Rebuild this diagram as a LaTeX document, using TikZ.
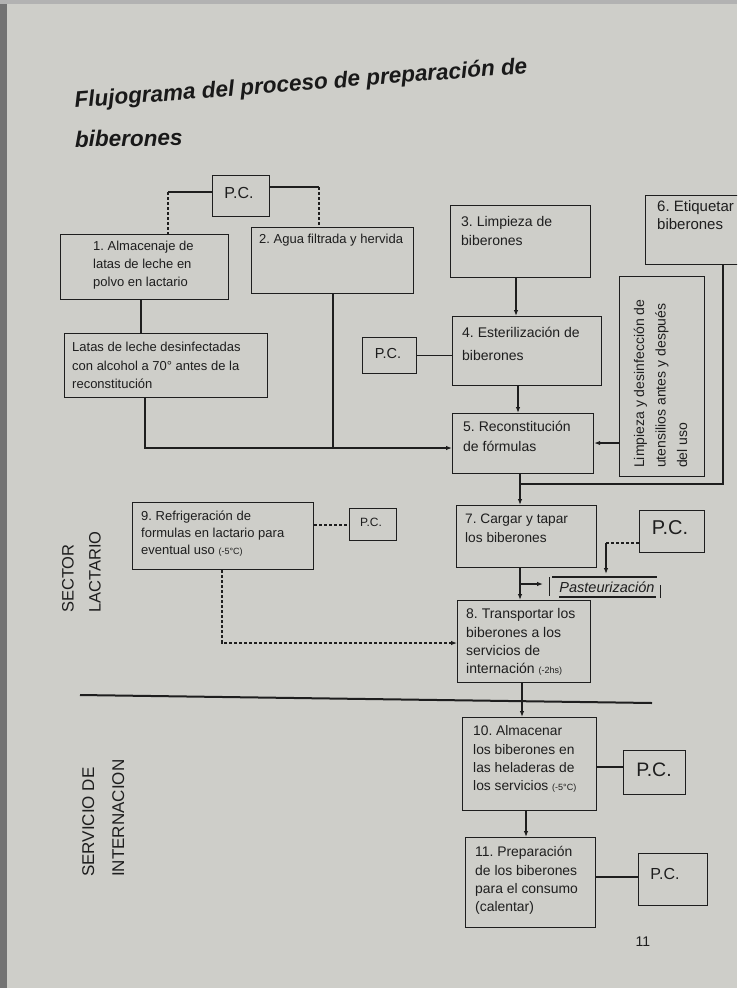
\documentclass[tikz,border=0pt]{standalone}
\usepackage{fontspec}
\setmainfont{Liberation Sans}
\usetikzlibrary{arrows.meta,calc}
\definecolor{inkc}{HTML}{1E1E1E}
\definecolor{paper}{HTML}{CECEC9}
\frenchspacing
\begin{document}
\begin{tikzpicture}[x=1pt,y=-1pt,
  box/.style={draw=inkc, line width=1.2pt, anchor=north west, inner sep=0pt},
  txt/.style={anchor=north west, inner sep=0pt, align=left, text=inkc},
  pctxt/.style={anchor=center, inner sep=0pt, text=inkc},
  conn/.style={draw=inkc, line width=1.1pt},
  arr/.style={conn, -{Latex[length=6pt,width=4.5pt]}},
  dsh/.style={conn, dash pattern=on 3pt off 2pt},
]
\useasboundingbox (0,0) rectangle (737,988);
\clip (0,0) rectangle (737,988);
\fill[paper] (0,0) rectangle (737,988);
\fill[black!55] (0,0) rectangle (7,988);
\fill[black!30] (0,0) rectangle (737,4);

% Title
\node[anchor=base west, inner sep=0pt, rotate=4.4, text=black!90,
  font=\fontsize{22.5}{26}\selectfont\bfseries\itshape] (title1) at (75,108)
  {Flujograma del proceso de preparación de};
\node[anchor=base west, inner sep=0pt, rotate=0.8, text=black!90,
  font=\fontsize{22.5}{26}\selectfont\bfseries\itshape] (title2) at (75,147)
  {biberones};

% Top P.C.
\node[box, minimum width=57pt, minimum height=41pt] (pc0) at (212,175) {};
\node[pctxt, font=\fontsize{16}{16}\selectfont] (pc0t) at (239,193) {P.C.};

% Box 1
\node[box, minimum width=168pt, minimum height=65pt] (b1) at (60,234) {};
\node[txt, font=\fontsize{13}{18}\selectfont] (t1) at (93,241)
  {1. Almacenaje de\\latas de leche en\\polvo en lactario};

% Box 2
\node[box, minimum width=162pt, minimum height=66pt] (b2) at (251,227) {};
\node[txt, font=\fontsize{13}{18}\selectfont] (t2) at (259,234)
  {2. Agua filtrada y hervida};

% Latas
\node[box, minimum width=203pt, minimum height=64pt] (latas) at (64,333) {};
\node[txt, font=\fontsize{13}{18.5}\selectfont] (tl) at (72,342)
  {Latas de leche desinfectadas\\con alcohol a 70° antes de la\\reconstitución};

% Box 3
\node[box, minimum width=140pt, minimum height=72pt] (b3) at (450,205) {};
\node[txt, font=\fontsize{14}{19}\selectfont] (t3) at (461,216.5)
  {3. Limpieza de\\biberones};

% P.C. 4
\node[box, minimum width=54pt, minimum height=36pt] (pc4) at (362,337) {};
\node[pctxt, font=\fontsize{14.5}{14.5}\selectfont] (pc4t) at (388,354) {P.C.};

% Box 4
\node[box, minimum width=149pt, minimum height=69pt] (b4) at (452,316) {};
\node[txt, font=\fontsize{14}{23}\selectfont] (t4) at (462,326.5)
  {4. Esterilización de\\biberones};

% Box 5
\node[box, minimum width=141pt, minimum height=60pt] (b5) at (452,413) {};
\node[txt, font=\fontsize{14}{20}\selectfont] (t5) at (463,420.5)
  {5. Reconstitución\\de fórmulas};

% Box 6
\node[box, minimum width=100pt, minimum height=69pt] (b6) at (645,195) {};
\node[txt, font=\fontsize{15}{18.5}\selectfont] (t6) at (657,200)
  {6. Etiquetar\\biberones};

% Limpieza box
\node[box, minimum width=85pt, minimum height=200pt] (limp) at (619,276) {};
\node[txt, rotate=90, font=\fontsize{14}{21.5}\selectfont] (tlimp) at (633.5,468)
  {Limpieza y desinfección de\\utensilios antes y después\\del uso};

% Box 9
\node[box, minimum width=181pt, minimum height=67pt] (b9) at (132,502) {};
\node[txt, font=\fontsize{13}{17}\selectfont] (t9) at (141,511)
  {9. Refrigeración de\\formulas en lactario para\\eventual uso {\fontsize{9}{9}\selectfont(-5°C)}};

% P.C. 9
\node[box, minimum width=47pt, minimum height=32pt] (pc9) at (349,508) {};
\node[pctxt, font=\fontsize{12}{12}\selectfont] (pc9t) at (371,522) {P.C.};

% Box 7
\node[box, minimum width=140pt, minimum height=62pt] (b7) at (456,505) {};
\node[txt, font=\fontsize{13.7}{19}\selectfont] (t7) at (465,513.5)
  {7. Cargar y tapar\\los biberones};

% P.C. 7
\node[box, minimum width=65pt, minimum height=42pt] (pc7) at (639,510) {};
\node[pctxt, font=\fontsize{20}{20}\selectfont] (pc7t) at (670,528) {P.C.};

% Pasteurizacion
\node[anchor=base, inner sep=0pt, text=inkc, font=\fontsize{14.5}{14.5}\selectfont\itshape]
  (past) at (607,592) {Pasteurización};
\draw[conn] ($(past.base west)+(-10,-15)$) -- ($(past.base west)+(-10,4)$);
\draw[conn] ($(past.base west)+(-7,-15)$) -- ($(past.base east)+(2,-15)$);
\draw[conn] ($(past.base west)+(0,5)$) -- ($(past.base east)+(1,5)$);
\draw[conn] ($(past.base east)+(6,-7)$) -- ($(past.base east)+(6,6)$);

% Box 8
\node[box, minimum width=133pt, minimum height=82pt] (b8) at (457,600) {};
\node[txt, font=\fontsize{14}{18.3}\selectfont] (t8) at (466,608.5)
  {8. Transportar los\\biberones a los\\servicios de\\internación {\fontsize{9}{9}\selectfont(-2hs)}};

% Separator
\coordinate (sepa) at (80,695);
\coordinate (sepb) at (652,703);
\draw[draw=inkc, line width=2pt] (sepa) -- (sepb);

% Box 10
\node[box, minimum width=134pt, minimum height=93pt] (b10) at (462,717) {};
\node[txt, font=\fontsize{13.8}{18.3}\selectfont] (t10) at (473,725.5)
  {10. Almacenar\\los biberones en\\las heladeras de\\los servicios {\fontsize{9}{9}\selectfont(-5°C)}};

% P.C. 10
\node[box, minimum width=62pt, minimum height=44pt] (pc10) at (623,750) {};
\node[pctxt, font=\fontsize{19.5}{19.5}\selectfont] (pc10t) at (654,770) {P.C.};

% Box 11
\node[box, minimum width=130pt, minimum height=90pt] (b11) at (465,837) {};
\node[txt, font=\fontsize{13.9}{18.3}\selectfont] (t11) at (475,846.5)
  {11. Preparación\\de los biberones\\para el consumo\\(calentar)};

% P.C. 11
\node[box, minimum width=69pt, minimum height=52pt] (pc11) at (638,853) {};
\node[pctxt, font=\fontsize{16}{16}\selectfont] (pc11t) at (665,874) {P.C.};

% Side labels
\node[txt, rotate=90, font=\fontsize{16.5}{27}\selectfont] (lab1) at (62,613)
  {SECTOR\\LACTARIO};
\node[txt, rotate=90, font=\fontsize{17}{30}\selectfont] (lab2) at (82,877)
  {SERVICIO DE\\INTERNACION};

% Page number
\node[anchor=base, inner sep=0pt, text=inkc, font=\fontsize{14}{14}\selectfont] (pnum) at (643,946) {11};

% ---------- connectors ----------
\coordinate (c1) at (168,192);
\draw[conn] (pc0.west |- c1) -- (c1);
\draw[dsh] (c1) -- (c1 |- b1.north);
\coordinate (c2) at (319,187);
\draw[conn] (pc0.east |- c2) -- (c2);
\draw[dsh] (c2) -- (c2 |- b2.north);

\coordinate (c3) at (141,0);
\draw[conn] (c3 |- b1.south) -- (c3 |- latas.north);

\coordinate (c4) at (145,448);
\coordinate (c5) at (333,448);
\draw[arr] (c4 |- latas.south) |- (b5.west |- c4);
\draw[conn] (c5 |- b2.south) -- (c5);

\coordinate (c6) at (516,0);
\draw[arr] (c6 |- b3.south) -- (c6 |- b4.north);
\draw[conn] (pc4.east) -- (pc4.east -| b4.west);
\coordinate (c6b) at (518,0);
\draw[arr] (c6b |- b4.south) -- (c6b |- b5.north);

\coordinate (c7) at (0,443);
\draw[arr] (limp.west |- c7) -- (b5.east |- c7);

\coordinate (c8) at (723,484);
\coordinate (c9) at (520,484);
\draw[conn] (c8 |- b6.south) -- (c8) -- (c9);
\draw[arr] (c9 |- b5.south) -- (c9 |- b7.north);

\coordinate (c10) at (0,525);
\draw[dsh] (b9.east |- c10) -- (pc9.west |- c10);

\coordinate (c11) at (222,643);
\draw[dsh, -{Latex[length=6pt,width=4.5pt]}] (c11 |- b9.south) |- (b8.west |- c11);

\coordinate (c12) at (606,543);
\coordinate (c12b) at (606,574);
\draw[dsh] (pc7.west |- c12) -- (c12);
\draw[arr] (c12) -- (c12b);

\draw[arr] (c9 |- b7.south) -- (c9 |- b8.north);
\coordinate (c13) at (520,584);
\coordinate (c14) at (543,584);
\draw[arr] (c13) -- (c14);

\coordinate (c15) at (522,0);
\draw[arr] (c15 |- b8.south) -- (c15 |- b10.north);
\coordinate (c16) at (0,767);
\draw[conn] (b10.east |- c16) -- (pc10.west |- c16);
\coordinate (c17) at (526,0);
\draw[arr] (c17 |- b10.south) -- (c17 |- b11.north);
\coordinate (c18) at (0,877);
\draw[conn] (b11.east |- c18) -- (pc11.west |- c18);
\end{tikzpicture}
\end{document}
